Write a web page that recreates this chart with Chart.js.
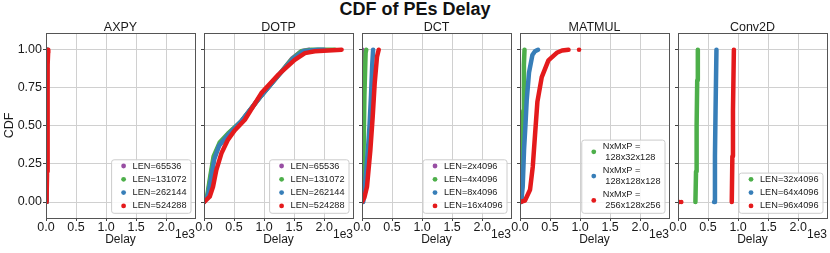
<!DOCTYPE html>
<html>
<head>
<meta charset="utf-8">
<script src="https://cdn.jsdelivr.net/npm/chart.js@4.4.1/dist/chart.umd.min.js"></script>
<style>
  html, body { margin: 0; padding: 0; background: #fff; }
  #wrap { position: relative; width: 830px; height: 253px; overflow: hidden; font-family: 'Liberation Sans', Arial, sans-serif; }
  #title { position: absolute; left: 0; top: -1px; width: 830px; text-align: center; font-weight: bold; font-size: 18px; line-height: 20px; color: #111; }
  canvas { position: absolute; top: 0; }
</style>
</head>
<body>
<div id="wrap">
  <div id="title">CDF of PEs Delay</div>
  <canvas id="c0" width="200" height="253"></canvas>
  <canvas id="c1" width="174" height="253"></canvas>
  <canvas id="c2" width="174" height="253"></canvas>
  <canvas id="c3" width="174" height="253"></canvas>
  <canvas id="c4" width="174" height="253"></canvas>
</div>
<script>
// ---- data (delay in cycles, cdf) ----
const panelTitles = ['AXPY', 'DOTP', 'DCT', 'MATMUL', 'Conv2D'];
const xTicks = [0, 500, 1000, 1500, 2000];
const yTicks = [0, 0.25, 0.5, 0.75, 1];

const axpyLabels = ['LEN=65536', 'LEN=131072', 'LEN=262144', 'LEN=524288'];
const axpy65536 = [[0, 0], [4, 0.05], [8, 0.3], [11, 0.7], [14, 0.95], [18, 1]];
const axpy131072 = [[0, 0], [5, 0.05], [9, 0.3], [13, 0.7], [16, 0.95], [20, 1]];
const axpy262144 = [[0, 0], [6, 0.05], [11, 0.3], [15, 0.7], [19, 0.95], [24, 1]];
const axpy524288 = [[0, 0], [10, 0.03], [18, 0.2], [24, 0.6], [30, 0.9], [35, 0.98], [38, 1]];

const dotpLabels = ['LEN=65536', 'LEN=131072', 'LEN=262144', 'LEN=524288'];
const dotp65536 = [[0, 0], [60, 0.04], [110, 0.16], [165, 0.29], [260, 0.38], [400, 0.445], [620, 0.53], [955, 0.7], [1235, 0.83], [1460, 0.94], [1620, 0.99], [1750, 1]];
const dotp131072 = [[0, 0], [55, 0.045], [105, 0.17], [160, 0.3], [260, 0.39], [400, 0.45], [620, 0.53], [955, 0.7], [1235, 0.83], [1455, 0.934], [1620, 0.99], [1790, 1], [2180, 1]];
const dotp262144 = [[0, 0], [65, 0.04], [115, 0.15], [170, 0.28], [250, 0.37], [400, 0.44], [620, 0.53], [955, 0.7], [1235, 0.83], [1480, 0.94], [1650, 0.99], [1900, 1], [2000, 1]];
const dotp524288 = [[0, 0], [95, 0.035], [150, 0.1], [205, 0.21], [290, 0.32], [400, 0.41], [510, 0.47], [680, 0.54], [955, 0.715], [1235, 0.835], [1510, 0.934], [1680, 0.978], [1845, 0.99], [2290, 1]];

const dctLabels = ['LEN=2x4096', 'LEN=4x4096', 'LEN=8x4096', 'LEN=16x4096'];
const dct2x4096 = [[0, 0], [5, 0.5], [12, 1]];
const dct4x4096 = [[5, 0], [25, 0.3], [40, 0.7], [60, 0.98], [70, 1]];
const dct8x4096 = [[20, 0], [60, 0.15], [100, 0.35], [125, 0.5], [150, 0.7], [170, 0.9], [185, 1]];
const dct16x4096 = [[0, 0], [40, 0.03], [83, 0.1], [139, 0.34], [178, 0.56], [211, 0.78], [250, 0.955], [278, 1]];

const matmulLabels = ['NxMxP =\n 128x32x128', 'NxMxP =\n 128x128x128', 'NxMxP =\n 256x128x256'];
const matmul128x32 = [[20, 0], [40, 0.2], [55, 0.6], [65, 0.9], [75, 1]];
const matmul128x128 = [[20, 0], [45, 0.1], [67, 0.34], [90, 0.5], [112, 0.67], [150, 0.85], [206, 0.965], [250, 0.99], [300, 1]];
const matmul256x128 = [[0, 0], [83, 0.01], [167, 0.08], [212, 0.23], [250, 0.44], [290, 0.66], [362, 0.82], [473, 0.93], [612, 0.98], [700, 0.995], [807, 1]];
const matmulOutliers = [[983, 1]];

const conv2dLabels = ['LEN=32x4096', 'LEN=64x4096', 'LEN=96x4096'];
const conv2d32x4096 = [[290, 0], [300, 0.2], [310, 0.5], [320, 0.8], [330, 1]];
const conv2d64x4096 = [[600, 0], [615, 0.3], [625, 0.6], [640, 1]];
const conv2d96x4096 = [[895, 0], [905, 0.3], [915, 0.6], [930, 1]];
const conv2dOutliers = [[20, 0], [55, 0]];

// ---- styles ----
const PURPLE = '#984ea3', GREEN = '#4daf4a', BLUE = '#377eb8', RED = '#e41a1c';
const FONT = "'Liberation Sans', Arial, sans-serif";
const TXT = '#1a1a1a', GRID = '#d0d0d0', TICK = '#444', FRAME = '#555';
const panelLefts = [46, 204, 362, 520, 678];
const panelWidth = 149;

const panels = [
    { labels: axpyLabels, series: [axpy65536, axpy131072, axpy262144, axpy524288], colors: [PURPLE, GREEN, BLUE, RED], extra: [] },
    { labels: dotpLabels, series: [dotp65536, dotp131072, dotp262144, dotp524288], colors: [PURPLE, GREEN, BLUE, RED], extra: [] },
    { labels: dctLabels, series: [dct2x4096, dct4x4096, dct8x4096, dct16x4096], colors: [PURPLE, GREEN, BLUE, RED], extra: [] },
    { labels: matmulLabels, series: [matmul128x32, matmul128x128, matmul256x128], colors: [GREEN, BLUE, RED], extra: matmulOutliers },
    { labels: conv2dLabels, series: [conv2d32x4096, conv2d64x4096, conv2d96x4096], colors: [GREEN, BLUE, RED], extra: conv2dOutliers }
];

function drawLegend(chart, labels, colors) {
    const ctx = chart.ctx, a = chart.chartArea;
    ctx.save();
    ctx.font = '9.2px ' + FONT;
    const lineH = 11, gap = 2.3;
    let tw = 0;
    const rows = [];
    let y = 6.2;
    labels.forEach((lab, i) => {
        const lines = lab.split('\n');
        if (i > 0) y += lineH + gap;
        const ys = [];
        lines.forEach((l, j) => {
            if (j > 0) y += lineH;
            ys.push(y);
            tw = Math.max(tw, ctx.measureText(l).width);
        });
        rows.push({ lines, ys, color: colors[i] });
    });
    const h = y + 7.4;
    const w = 21 + tw + 4.5;
    const right = a.right - 4, bottom = a.bottom - 4.7;
    const left = right - w, top = bottom - h;
    ctx.beginPath();
    ctx.roundRect(left, top, w, h, 2.5);
    ctx.fillStyle = 'rgba(255,255,255,0.85)';
    ctx.fill();
    ctx.strokeStyle = '#cccccc';
    ctx.lineWidth = 1;
    ctx.stroke();
    ctx.textBaseline = 'middle';
    ctx.textAlign = 'left';
    rows.forEach(r => {
        const cy = top + (r.ys[0] + r.ys[r.ys.length - 1]) / 2;
        ctx.beginPath();
        ctx.arc(left + 12, cy, 2.4, 0, Math.PI * 2);
        ctx.fillStyle = r.color;
        ctx.fill();
        ctx.fillStyle = TXT;
        r.lines.forEach((l, j) => ctx.fillText(l, left + 21, top + r.ys[j]));
    });
    ctx.restore();
}

function makePanel(idx) {
    const p = panels[idx];
    const first = idx === 0;
    const canvas = document.getElementById('c' + idx);
    const padLeft = first ? 0 : 15;
    const yWidth = first ? 46 : 5;
    canvas.style.left = (panelLefts[idx] - padLeft - yWidth) + 'px';
    canvas.width = padLeft + yWidth + panelWidth + 5;

    const datasets = p.series.map((pts, i) => ({
        data: pts.map(([x, y]) => ({ x, y })),
        showLine: true,
        borderColor: p.colors[i],
        backgroundColor: p.colors[i],
        borderWidth: 4.5,
        borderCapStyle: 'round',
        borderJoinStyle: 'round',
        pointRadius: 0,
        tension: 0
    }));
    if (p.extra.length) {
        datasets.push({
            data: p.extra.map(([x, y]) => ({ x, y })),
            showLine: false,
            backgroundColor: RED,
            borderWidth: 0,
            pointRadius: 2.3
        });
    }
    // first dataset is painted on top in Chart.js, so reverse
    datasets.reverse();

    const frame = {
        id: 'frame' + idx,
        afterDatasetsDraw(chart) {
            const { ctx, chartArea: a } = chart;
            ctx.save();
            ctx.strokeStyle = FRAME;
            ctx.lineWidth = 1;
            ctx.strokeRect(Math.round(a.left) + 0.5, Math.round(a.top) + 0.5,
                Math.round(a.right - a.left), Math.round(a.bottom - a.top));
            ctx.restore();
            drawLegend(chart, p.labels, p.colors);
        },
        afterDraw(chart) {
            const { ctx, chartArea: a } = chart;
            ctx.save();
            ctx.fillStyle = TXT;
            ctx.font = '12.5px ' + FONT;
            ctx.textAlign = 'center';
            ctx.textBaseline = 'alphabetic';
            ctx.fillText(panelTitles[idx], (a.left + a.right) / 2, a.top - 2.5);
            ctx.font = '12px ' + FONT;
            ctx.textAlign = 'right';
            ctx.textBaseline = 'middle';
            ctx.fillText('1e3', a.right, a.bottom + 16.5);
            ctx.restore();
        }
    };

    new Chart(canvas, {
        type: 'scatter',
        data: { datasets },
        options: {
            responsive: false,
            animation: false,
            events: [],
            layout: { padding: { left: padLeft, right: 5, top: 33, bottom: 0 } },
            plugins: { legend: { display: false }, tooltip: { enabled: false } },
            scales: {
                x: {
                    type: 'linear',
                    min: 0,
                    max: 2480,
                    afterBuildTicks: s => { s.ticks = xTicks.map(v => ({ value: v })); },
                    afterFit: s => { s.height = 35; },
                    grid: { color: GRID, tickColor: TICK, tickLength: 3, drawTicks: true },
                    border: { display: false },
                    ticks: {
                        autoSkip: false, maxRotation: 0, padding: -1,
                        color: TXT, font: { size: 12.5, family: FONT },
                        callback: v => (v / 1000).toFixed(1)
                    },
                    title: {
                        display: true, text: 'Delay', color: TXT,
                        font: { size: 12, family: FONT },
                        padding: { top: 0, bottom: 6 }
                    }
                },
                y: {
                    type: 'linear',
                    min: -0.105,
                    max: 1.11,
                    afterBuildTicks: s => { s.ticks = yTicks.map(v => ({ value: v })); },
                    afterFit: s => { s.width = yWidth; },
                    grid: { color: GRID, tickColor: TICK, tickLength: 3, drawTicks: true },
                    border: { display: false },
                    ticks: {
                        display: first, autoSkip: false, padding: 1,
                        color: TXT, font: { size: 12.5, family: FONT },
                        callback: v => v.toFixed(2)
                    },
                    title: {
                        display: first, text: 'CDF', color: TXT,
                        font: { size: 12.5, family: FONT },
                        padding: { top: 2, bottom: 0 }
                    }
                }
            }
        },
        plugins: [frame]
    });
}

panels.forEach((p, i) => makePanel(i));
</script>
</body>
</html>
